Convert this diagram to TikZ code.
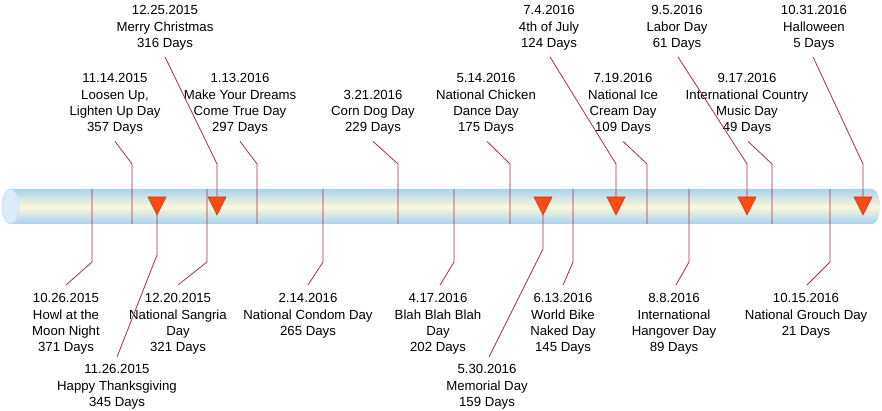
\documentclass[tikz,border=0pt]{standalone}
\usepackage{fontspec}
\setmainfont{Liberation Sans}
\usetikzlibrary{calc}
\definecolor{tubeblue}{HTML}{A9D3EF}
\definecolor{tubecream}{HTML}{FBF7DA}
\definecolor{capfill}{HTML}{D9ECF8}
\definecolor{capline}{HTML}{BFDDF1}
\definecolor{linkred}{HTML}{A8323E}
\definecolor{trifill}{HTML}{FF4A14}
\definecolor{triline}{HTML}{C23A1A}
\begin{document}
\begin{tikzpicture}[x=1pt,y=-1pt,
  lbl/.style={align=center,inner sep=0pt,font=\fontsize{13.2}{16.4}\selectfont},
  conn/.style={draw=linkred,line width=0.8pt},
  tri/.style={fill=trifill,draw=triline,line width=0.6pt,line join=round}]
\useasboundingbox (0,0) rectangle (882,411);
\fill[white] (0,0) rectangle (882,411);

% tube
\shade[top color=tubeblue,bottom color=tubeblue,middle color=tubecream]
  (10,189) -- (872,189) arc[start angle=-90,end angle=90,x radius=8,y radius=17.5] -- (10,224) -- cycle;
\filldraw[fill=capfill,draw=capline,line width=0.5pt] (10.5,206.5) ellipse[x radius=8.5,y radius=17.5];

% top row labels (with triangles)
\node[lbl,anchor=north] (xmas) at (165,5.3) {12.25.2015\\Merry Christmas\\316 Days};
\node[lbl,anchor=north] (july) at (549,5.3) {7.4.2016\\4th of July\\124 Days};
\node[lbl,anchor=north] (labor) at (677,5.3) {9.5.2016\\Labor Day\\61 Days};
\node[lbl,anchor=north] (hallo) at (814,5.3) {10.31.2016\\Halloween\\5 Days};

% middle row labels
\node[lbl,anchor=north] (loosen) at (115,73.3) {11.14.2015\\Loosen Up,\\Lighten Up Day\\357 Days};
\node[lbl,anchor=north] (dreams) at (240,73.3) {1.13.2016\\Make Your Dreams\\Come True Day\\297 Days};
\node[lbl,anchor=north] (corn) at (373,89.7) {3.21.2016\\Corn Dog Day\\229 Days};
\node[lbl,anchor=north] (chicken) at (486,73.3) {5.14.2016\\National Chicken\\Dance Day\\175 Days};
\node[lbl,anchor=north] (icecream) at (623,73.3) {7.19.2016\\National Ice\\Cream Day\\109 Days};
\node[lbl,anchor=north] (country) at (747,73.3) {9.17.2016\\International Country\\Music Day\\49 Days};

% lower labels
\node[lbl,anchor=north] (howl) at (66,293.3) {10.26.2015\\Howl at the\\Moon Night\\371 Days};
\node[lbl,anchor=north] (sangria) at (178,293.3) {12.20.2015\\National Sangria\\Day\\321 Days};
\node[lbl,anchor=north] (condom) at (308,293.3) {2.14.2016\\National Condom Day\\265 Days};
\node[lbl,anchor=north] (blah) at (438,293.3) {4.17.2016\\Blah Blah Blah\\Day\\202 Days};
\node[lbl,anchor=north] (bike) at (563,293.3) {6.13.2016\\World Bike\\Naked Day\\145 Days};
\node[lbl,anchor=north] (hangover) at (674,293.3) {8.8.2016\\International\\Hangover Day\\89 Days};
\node[lbl,anchor=north] (grouch) at (806,293.3) {10.15.2016\\National Grouch Day\\21 Days};
\node[lbl,anchor=north] (thanks) at (117,364.3) {11.26.2015\\Happy Thanksgiving\\345 Days};
\node[lbl,anchor=north] (memorial) at (487,364.3) {5.30.2016\\Memorial Day\\159 Days};

% tick ends
\coordinate (eLoosen) at (132,224);
\coordinate (eDreams) at (257,224);
\coordinate (eCorn) at (398,224);
\coordinate (eChicken) at (510,224);
\coordinate (eIce) at (647,224);
\coordinate (eCountry) at (772,224);
\coordinate (sHowl) at (92,189);
\coordinate (sSangria) at (207,189);
\coordinate (sCondom) at (323,189);
\coordinate (sBlah) at (454,189);
\coordinate (sBike) at (573,189);
\coordinate (sHangover) at (689,189);
\coordinate (sGrouch) at (830,189);

% triangle coordinates
\coordinate (tXmas) at (217,197);
\coordinate (tJuly) at (616,197);
\coordinate (tLabor) at (747,197);
\coordinate (tHallo) at (863,197);
\coordinate (tThanks) at (157,215);
\coordinate (tMemorial) at (543,215);

% upper connectors
\draw[conn] ($(loosen.south)+(0,6.5)$) -- (132,164) -- (eLoosen);
\draw[conn] ($(dreams.south)+(0,6.5)$) -- (257,164) -- (eDreams);
\draw[conn] ($(corn.south)+(0,6.5)$) -- (398,164) -- (eCorn);
\draw[conn] ($(chicken.south)+(1,6.5)$) -- (510,164) -- (eChicken);
\draw[conn] ($(icecream.south)+(0,6.5)$) -- (647,164) -- (eIce);
\draw[conn] ($(country.south)+(1,6.5)$) -- (772,164) -- (eCountry);
\draw[conn] ($(xmas.south)+(0,6.5)$) -- (217,164) -- (tXmas);
\draw[conn] ($(july.south)+(1,6.5)$) -- (616,164) -- (tJuly);
\draw[conn] ($(labor.south)+(1,6.5)$) -- (747,164) -- (tLabor);
\draw[conn] ($(hallo.south)+(-1,6.5)$) -- (863,164) -- (tHallo);

% lower connectors
\draw[conn] (sHowl) -- (92,262) -- ($(howl.north)+(0,-8.3)$);
\draw[conn] (sSangria) -- (207,262) -- ($(sangria.north)+(0,-8.3)$);
\draw[conn] (sCondom) -- (323,262) -- ($(condom.north)+(0,-8.3)$);
\draw[conn] (sBlah) -- (454,262) -- ($(blah.north)+(2,-8.3)$);
\draw[conn] (sBike) -- (573,262) -- ($(bike.north)+(0,-8.3)$);
\draw[conn] (sHangover) -- (689,262) -- ($(hangover.north)+(2,-8.3)$);
\draw[conn] (sGrouch) -- (830,262) -- ($(grouch.north)+(1,-8.3)$);
\draw[conn] (tThanks) -- (157,255) -- ($(thanks.north)+(0,-7.3)$);
\draw[conn] (tMemorial) -- (543,249) -- ($(memorial.north)+(2,-7.3)$);

% triangles
\foreach \t/\x in {xm/217, th/157, ju/616, la/747, ha/863, me/543}{
  \draw[tri] (\x-9,197) -- (\x+9,197) -- (\x,215) -- cycle;
}
\end{tikzpicture}
\end{document}
